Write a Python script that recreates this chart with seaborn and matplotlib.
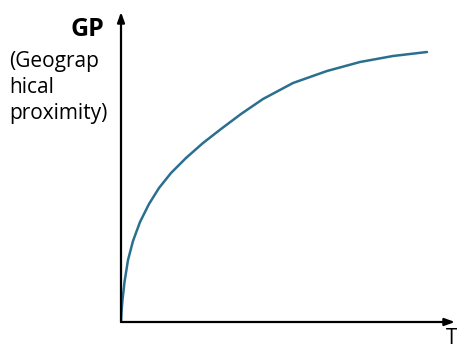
import pandas as pd
import matplotlib.pyplot as plt
import seaborn as sns

# Values (axis units, origin at the axes corner).
time_t = [0, 0.5, 1.5, 3.5, 7, 12, 19, 28, 38, 50, 65, 82, 100, 120, 142,
          172, 206, 239, 272, 306]
proximity = [0, 10, 22, 40, 62, 81, 100, 118, 134, 149, 164, 179, 193, 208,
             223, 239, 251, 260, 266, 270]

x_label = "T"
y_label_bold = "GP"
y_label_lines = ["(Geograp", "hical", "proximity)"]

sns.set_theme(style="white")
plt.rcParams['font.family'] = ['Open Sans', 'DejaVu Sans']

df = pd.DataFrame({"T": time_t, "GP": proximity})

fig = plt.figure(figsize=(4.57, 3.45), dpi=100)
ax = fig.add_axes([121 / 457, 23 / 345, 334 / 457, 310 / 345])

sns.lineplot(data=df, x="T", y="GP", ax=ax, color="#2b6f8f", linewidth=1.8,
             sort=False)

ax.set_xlim(0, 334)
ax.set_ylim(0, 310)
ax.set_xticks([])
ax.set_yticks([])
ax.set_xlabel("")
ax.set_ylabel("")
for s in ax.spines.values():
    s.set_visible(False)

# Axis arrows.
arrow = dict(arrowstyle="-|>,head_length=0.5,head_width=0.18", color="black",
             lw=1.6, shrinkA=0, shrinkB=0)
ax.annotate("", xy=(1, 0), xytext=(0, 0), xycoords="axes fraction", arrowprops=arrow)
ax.annotate("", xy=(0, 1), xytext=(0, 0), xycoords="axes fraction", arrowprops=arrow)

# Labels.
fig.text(104 / 457, 1 - 30 / 345, y_label_bold, ha="right", va="center",
         fontsize=18, fontweight="bold", color="black")
for i, line in enumerate(y_label_lines):
    fig.text(9 / 457, 1 - (62 + 25.5 * i) / 345, line, ha="left", va="center",
             fontsize=15, color="black")
fig.text(446 / 457, 1 - 328 / 345, x_label, ha="left", va="top", fontsize=15,
         color="black")

fig.savefig("out.png", dpi=100)
